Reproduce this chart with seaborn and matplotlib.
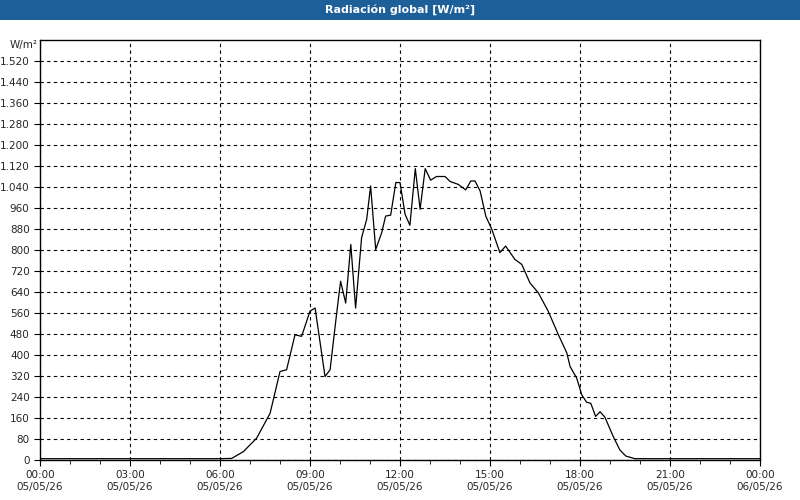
import matplotlib
matplotlib.use("Agg")
import matplotlib.pyplot as plt
import seaborn as sns
import pandas as pd
from matplotlib.patches import Rectangle

hours = [0, 6.0, 6.39, 6.78, 7.22, 7.67, 8.0, 8.22, 8.5, 8.72, 9.0, 9.17, 9.5, 9.67, 9.89, 10.02, 10.19,
         10.36, 10.52, 10.72, 10.89, 11.02, 11.19, 11.39, 11.52, 11.69, 11.86, 12.0, 12.17, 12.33,
         12.51, 12.67, 12.84, 13.02, 13.22, 13.5, 13.67, 13.94, 14.19, 14.36, 14.5, 14.67, 14.86,
         15.06, 15.33, 15.52, 15.83, 16.06, 16.33, 16.61, 16.94, 17.28, 17.56, 17.67, 17.89, 18.06,
         18.22, 18.36, 18.52, 18.67, 18.83, 19.11, 19.33, 19.53, 19.83, 24.0]
values = [5, 5, 6, 32, 83, 178, 337, 344, 477, 471, 567, 579, 318, 344, 560, 681, 598,
          821, 579, 847, 917, 1044, 802, 866, 929, 933, 1057, 1057, 936, 894,
          1110, 955, 1110, 1066, 1080, 1080, 1061, 1050, 1029, 1063, 1063, 1025, 929,
          879, 790, 815, 764, 745, 675, 637, 567, 477, 408, 356, 312, 248,
          220, 216, 166, 184, 163, 89, 38, 15, 5, 5]
xtick_labels = ["00:00\n05/05/26", "03:00\n05/05/26", "06:00\n05/05/26", "09:00\n05/05/26",
                "12:00\n05/05/26", "15:00\n05/05/26", "18:00\n05/05/26", "21:00\n05/05/26",
                "00:00\n06/05/26"]
yticks = list(range(0, 1521, 80))
title = "Radiación global [W/m²]"

sns.set_style("white")
plt.rcParams['font.family'] = ['DejaVu Sans']
fig = plt.figure(figsize=(8, 5), dpi=100)
fig.patches.append(Rectangle((0, 0.96), 1, 0.04, transform=fig.transFigure,
                             facecolor="#1d5f99", edgecolor="none"))
fig.text(0.5, 0.98, title, color="white", weight="bold", ha="center", va="center", fontsize=8)

ax = fig.add_axes([0.05, 0.08, 0.9, 0.84])
df = pd.DataFrame({"h": hours, "v": values})
sns.lineplot(data=df, x="h", y="v", ax=ax, color="black", linewidth=0.9)
ax.set_xlim(0, 24)
ax.set_ylim(0, 1600)
ax.set_xticks(range(0, 25, 3))
ax.set_xticklabels(xtick_labels, fontsize=7.5)
ax.set_xticks(range(0, 25), minor=True)
ax.set_yticks(yticks)
ax.set_yticklabels([f"{v:,}".replace(",", ".") for v in yticks], fontsize=7.5)
ax.set_xlabel("")
ax.set_ylabel("")
ax.grid(True, which="major", color="black", linestyle=(0, (3, 3)), linewidth=0.8)
for s in ax.spines.values():
    s.set_color("black")
    s.set_linewidth(1)
ax.tick_params(which="both", direction="out", length=4, color="black", bottom=True, left=True)
ax.tick_params(which="minor", length=3)
fig.text(0.012, 0.91, "W/m²", fontsize=7.5, ha="left", va="center")
fig.savefig("out.png", dpi=100)
